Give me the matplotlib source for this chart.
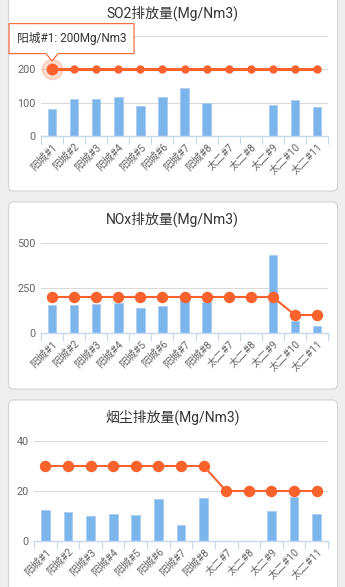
import numpy as np
import matplotlib
matplotlib.use('Agg')
import matplotlib.pyplot as plt
from matplotlib.patches import FancyBboxPatch, Polygon
from matplotlib.transforms import IdentityTransform

plt.rcParams['font.family'] = ['Roboto', 'Noto Sans CJK SC', 'DejaVu Sans']

# data
units = ['阳城#1', '阳城#2', '阳城#3', '阳城#4', '阳城#5', '阳城#6', '阳城#7', '阳城#8',
         '太二#7', '太二#8', '太二#9', '太二#10', '太二#11']
so2_values = [81, 110, 110, 116, 90, 116, 143, 100, 0, 0, 93, 108, 87]
so2_limit = [200] * 13
nox_values = [157, 157, 162, 167, 141, 152, 186, 172, 0, 0, 433, 66, 41]
nox_limit = [200] * 11 + [100, 100]
dust_values = [12.3, 11.5, 10.0, 10.8, 10.4, 16.7, 6.5, 17.1, 0, 0, 12.0, 17.5, 10.8]
dust_limit = [30] * 8 + [20] * 5

W, H = 345, 587
BLUE = '#7cb5ec'
ORANGE = '#f9612d'
GRID = '#d9d9d9'
AXIS = '#c6d8ec'

fig = plt.figure(figsize=(W / 100, H / 100), dpi=100, facecolor='#eeeeee')


def card(top, bottom):
    p = FancyBboxPatch((8.5, H - bottom), 329, bottom - top,
                       boxstyle='round,pad=0,rounding_size=5',
                       transform=IdentityTransform(), facecolor='white',
                       edgecolor='#d4d4d4', linewidth=0.8, zorder=-1)
    fig.add_artist(p)


def panel(left, top, bottom, values, limit, ymax, yticks, ylabels, title, title_y, ms, lw):
    ax = fig.add_axes([left / W, 1 - bottom / H, (328 - left) / W, (bottom - top) / H])
    ax.set_facecolor('none')
    x = np.arange(len(units))
    ax.bar(x, values, width=0.39, color=BLUE, edgecolor='#a9cdf2', linewidth=0.6, zorder=2)
    ax.plot(x, limit, color=ORANGE, lw=lw, marker='o', ms=ms, zorder=3)
    ax.set_xlim(-0.5, len(units) - 0.5)
    ax.set_ylim(0, ymax)
    ax.set_yticks(yticks, ylabels)
    ax.grid(axis='y', color=GRID, lw=0.8)
    ax.set_axisbelow(True)
    for s in ['top', 'right', 'left']:
        ax.spines[s].set_visible(False)
    ax.spines['bottom'].set_color(AXIS)
    ax.spines['bottom'].set_linewidth(1.0)
    ax.set_xticks(np.arange(-0.5, len(units), 1))
    ax.set_xticklabels([])
    ax.set_xticks(x, minor=True)
    ax.set_xticklabels(units, minor=True, rotation=45, ha='right',
                       rotation_mode='anchor', fontsize=7.5, color='#666666')
    ax.tick_params(axis='x', which='major', length=6, width=0.8, color=AXIS)
    ax.tick_params(axis='x', which='minor', length=0, pad=4)
    ax.tick_params(axis='y', length=0, pad=4, labelsize=7.8, labelcolor='#666666')
    fig.text(172.5 / W, 1 - title_y / H, title, ha='center', va='center',
             fontsize=10, color='#333333')
    return ax


card(-10, 191)
card(202, 389)
card(400, 600)

# the 300 label sits under the tooltip in the reference
ax1 = panel(41, 36, 136, so2_values, so2_limit, 300, [0, 100, 200, 300],
            ['0', '100', '200', ''], 'SO2排放量(Mg/Nm3)', 13, 5, 2.2)
ax2 = panel(41, 243, 333, nox_values, nox_limit, 500, [0, 250, 500],
            ['0', '250', '500'], 'NOx排放量(Mg/Nm3)', 219, 7.2, 1.5)
ax3 = panel(34, 441, 541, dust_values, dust_limit, 40, [0, 20, 40],
            ['0', '20', '40'], '烟尘排放量(Mg/Nm3)', 417, 7.2, 1.5)

# hovered point + tooltip on the first SO2 point
ax1.plot([0], [so2_limit[0]], 'o', color=ORANGE, ms=14.5, alpha=0.22, zorder=2.5, clip_on=False)
ax1.plot([0], [so2_limit[0]], 'o', color=ORANGE, ms=7.5, zorder=4, clip_on=False)

px, py = ax1.transData.transform((0, so2_limit[0]))
tip = py + 8.3
bot = py + 15.7
top = py + 45.7
l, r = px - 43, px + 82
tt = Polygon([(l, bot), (px - 6, bot), (px, tip), (px + 6, bot), (r, bot), (r, top), (l, top)],
             closed=True, transform=IdentityTransform(), facecolor='white',
             edgecolor=ORANGE, linewidth=0.8, zorder=5)
fig.add_artist(tt)
fig.text((l + 8) / W, (bot + top) / 2 / H, '阳城#1: ' + str(so2_limit[0]) + 'Mg/Nm3',
         ha='left', va='center', fontsize=8.5, color='#333333', zorder=6)

fig.savefig('out.png', dpi=100, facecolor=fig.get_facecolor())
